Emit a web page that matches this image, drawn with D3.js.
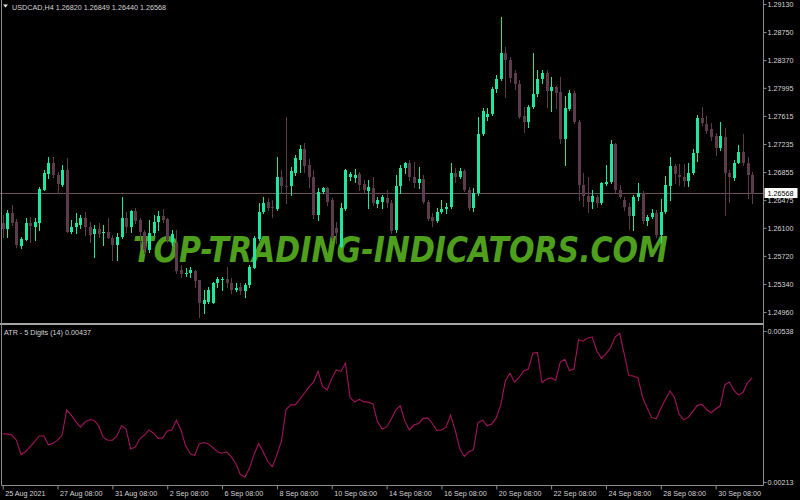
<!DOCTYPE html>
<html lang="en">
<head>
    <meta charset="UTF-8"/>
    <title>USDCAD H4 with ATR</title>
    <script src="https://d3js.org/d3.v7.min.js"></script>
    <style>
        body { margin: 0; background: #000; }
        svg { display: block; }
        text { font-family: "Liberation Sans", Arial, sans-serif; }
    </style>
</head>
<body>

<div id="chart"></div>

<script>
    // USDCAD H4 candles, oldest first
    var open = [
        1.26165,1.26083,1.26300,1.26178,1.25853,1.25934,1.26165,1.26110,1.26165,1.26611,
        1.26828,1.26977,1.26815,1.26679,1.26882,1.26043,1.26110,1.26138,1.26232,1.26110,
        1.26016,1.26083,1.26030,1.26043,1.25961,1.25867,1.25975,1.26232,1.26110,1.26327,
        1.26205,1.26043,1.25799,1.26029,1.26178,1.26259,1.26219,1.25907,1.25894,1.25528,
        1.25474,1.25488,1.25515,1.25393,1.25068,1.25095,1.25081,1.25352,1.25400,1.25406,
        1.25352,1.25257,1.25298,1.25244,1.25325,1.25555,1.25948,1.26313,1.26449,1.26381,
        1.26354,1.26787,1.26666,1.26666,1.26842,1.27018,1.27167,1.26950,1.26787,1.26273,
        1.26584,1.26639,1.26476,1.26097,1.25840,1.26354,1.26787,1.26774,1.26828,1.26693,
        1.26598,1.26639,1.26422,1.26449,1.26503,1.26435,1.26070,1.26666,1.26909,1.26977,
        1.26787,1.26706,1.26760,1.26449,1.26246,1.26192,1.26313,1.26354,1.26381,1.26842,
        1.26787,1.26869,1.26611,1.26368,1.26571,1.27370,1.27600,1.27640,1.27979,1.28114,
        1.28466,1.28372,1.28196,1.28047,1.27613,1.27532,1.27735,1.27911,1.28114,1.28196,
        1.27952,1.28006,1.27938,1.27302,1.27708,1.27925,1.27532,1.26679,1.26530,1.26449,
        1.26517,1.26435,1.26693,1.26720,1.27234,1.26611,1.26476,1.26381,1.26259,1.26517,
        1.26571,1.26192,1.26246,1.26300,1.26002,1.26313,1.26666,1.26936,1.26815,1.26787,
        1.26733,1.26842,1.27112,1.27586,1.27505,1.27437,1.27343,1.27180,1.27329,1.26842,
        1.26774,1.26977,1.27126,1.26977,1.26820
    ];
    var high = [
        1.26273,1.26341,1.26408,1.26219,1.25975,1.26232,1.26246,1.26232,1.26652,1.26882,
        1.27058,1.27058,1.26855,1.26950,1.27045,1.26205,1.26300,1.26273,1.26313,1.26178,
        1.26138,1.26165,1.26138,1.26232,1.26002,1.26029,1.26517,1.26313,1.26341,1.26368,
        1.26232,1.26070,1.26205,1.26273,1.26327,1.26354,1.26232,1.26070,1.26070,1.25596,
        1.25555,1.25569,1.25528,1.25393,1.25257,1.25298,1.25366,1.25433,1.25433,1.25569,
        1.25420,1.25352,1.25352,1.25352,1.25596,1.25989,1.26435,1.26517,1.26503,1.26476,
        1.27058,1.26882,1.27600,1.26923,1.27085,1.27221,1.27248,1.27031,1.26882,1.26639,
        1.26652,1.26652,1.26503,1.26178,1.26435,1.26896,1.26855,1.26896,1.26855,1.26747,
        1.26747,1.26787,1.26517,1.26544,1.26611,1.26476,1.26815,1.26950,1.26991,1.27018,
        1.26991,1.26923,1.26815,1.26476,1.26300,1.26368,1.26476,1.26435,1.26977,1.26909,
        1.26909,1.26896,1.26652,1.26639,1.27600,1.27722,1.27722,1.28006,1.28169,1.28954,
        1.28548,1.28412,1.28236,1.28101,1.27735,1.27762,1.28466,1.28236,1.28236,1.28236,
        1.28141,1.28020,1.28141,1.27884,1.27965,1.27952,1.27559,1.26842,1.26787,1.26611,
        1.26544,1.26720,1.26950,1.27288,1.27248,1.26679,1.26517,1.26435,1.26544,1.26706,
        1.26598,1.26273,1.26354,1.26341,1.26490,1.26801,1.27058,1.26963,1.26963,1.26963,
        1.26977,1.27167,1.27627,1.27735,1.27613,1.27519,1.27383,1.27532,1.27451,1.26882,
        1.27018,1.27221,1.27370,1.27058,1.26849
    ];
    var low = [
        1.25975,1.25975,1.26138,1.25840,1.25826,1.25934,1.25907,1.25934,1.26070,1.26611,
        1.26774,1.26787,1.26571,1.26666,1.26043,1.26029,1.26029,1.26097,1.26002,1.25907,
        1.25704,1.25975,1.25867,1.25961,1.25664,1.25664,1.25961,1.26043,1.26043,1.26165,
        1.25799,1.25758,1.25772,1.26002,1.26070,1.26178,1.25907,1.25867,1.25488,1.25433,
        1.25447,1.25433,1.25298,1.24892,1.24946,1.25081,1.25081,1.25298,1.25257,1.25298,
        1.25217,1.25244,1.25203,1.25163,1.25298,1.25555,1.25934,1.26300,1.26341,1.26246,
        1.26341,1.26584,1.26435,1.26544,1.26815,1.26855,1.26855,1.26652,1.26232,1.26205,
        1.26571,1.26408,1.25934,1.25894,1.25840,1.26341,1.26747,1.26720,1.26611,1.26571,
        1.26368,1.26408,1.26381,1.26368,1.26381,1.26029,1.26043,1.26571,1.26842,1.26747,
        1.26652,1.26639,1.26435,1.26205,1.26124,1.26178,1.26300,1.26300,1.26368,1.26720,
        1.26774,1.26598,1.26341,1.26327,1.26544,1.27356,1.27559,1.27627,1.27938,1.28101,
        1.27871,1.28074,1.27979,1.27586,1.27397,1.27464,1.27722,1.27884,1.28060,1.27735,
        1.27681,1.27722,1.27248,1.26950,1.27695,1.27519,1.26476,1.26395,1.26313,1.26368,
        1.26381,1.26422,1.26679,1.26706,1.26584,1.26503,1.26341,1.26083,1.26070,1.26476,
        1.26165,1.26138,1.26232,1.25975,1.25907,1.26300,1.26476,1.26706,1.26679,1.26666,
        1.26666,1.26828,1.27004,1.27492,1.27383,1.27288,1.27085,1.27153,1.26273,1.26449,
        1.26747,1.26977,1.26950,1.26503,1.26440
    ];
    var close = [
        1.26083,1.26300,1.26165,1.25867,1.25948,1.26165,1.26124,1.26178,1.26625,1.26842,
        1.26977,1.26815,1.26693,1.26882,1.26043,1.26110,1.26165,1.26232,1.26110,1.26002,
        1.26083,1.26016,1.26045,1.25961,1.25867,1.25975,1.26232,1.26110,1.26327,1.26192,
        1.26043,1.25799,1.26029,1.26178,1.26259,1.26205,1.25934,1.26016,1.25515,1.25474,
        1.25488,1.25528,1.25379,1.25081,1.25122,1.25257,1.25352,1.25406,1.25410,1.25352,
        1.25257,1.25284,1.25244,1.25325,1.25569,1.25961,1.26313,1.26435,1.26368,1.26368,
        1.26787,1.26666,1.26660,1.26869,1.27045,1.27167,1.26936,1.26787,1.26273,1.26584,
        1.26639,1.26449,1.25961,1.26029,1.26368,1.26882,1.26828,1.26815,1.26679,1.26611,
        1.26652,1.26435,1.26476,1.26517,1.26435,1.26056,1.26666,1.26909,1.26977,1.26787,
        1.26706,1.26760,1.26449,1.26219,1.26192,1.26313,1.26354,1.26381,1.26842,1.26787,
        1.26869,1.26611,1.26368,1.26571,1.27370,1.27681,1.27640,1.27979,1.28114,1.28466,
        1.28372,1.28128,1.28047,1.27600,1.27532,1.27735,1.27911,1.28114,1.28196,1.27952,
        1.28006,1.27925,1.27302,1.27722,1.27925,1.27532,1.26679,1.26530,1.26449,1.26530,
        1.26435,1.26706,1.26720,1.27234,1.26611,1.26517,1.26381,1.26259,1.26517,1.26571,
        1.26192,1.26246,1.26300,1.26002,1.26313,1.26679,1.26936,1.26828,1.26787,1.26733,
        1.26842,1.27112,1.27586,1.27519,1.27410,1.27329,1.27180,1.27343,1.26842,1.26787,
        1.26977,1.27126,1.26977,1.26815,1.26568
    ];

    // ATR - 5 Digits (14), one value per candle
    var atr = [
        0.00317,0.00316,0.00314,0.00303,0.00272,0.00278,0.00289,0.00300,0.00312,0.00312,
        0.00293,0.00296,0.00303,0.00314,0.00368,0.00357,0.00343,0.00331,0.00342,0.00347,
        0.00346,0.00334,0.00309,0.00303,0.00303,0.00312,0.00334,0.00327,0.00284,0.00288,
        0.00306,0.00314,0.00325,0.00318,0.00307,0.00308,0.00323,0.00325,0.00346,0.00325,
        0.00292,0.00274,0.00270,0.00295,0.00298,0.00295,0.00287,0.00278,0.00275,0.00278,
        0.00267,0.00253,0.00229,0.00224,0.00243,0.00272,0.00296,0.00278,0.00257,0.00246,
        0.00272,0.00301,0.00369,0.00379,0.00379,0.00391,0.00404,0.00417,0.00428,0.00451,
        0.00418,0.00411,0.00436,0.00454,0.00451,0.00469,0.00395,0.00385,0.00391,0.00386,
        0.00385,0.00381,0.00343,0.00327,0.00331,0.00348,0.00368,0.00377,0.00344,0.00325,
        0.00336,0.00339,0.00350,0.00351,0.00339,0.00324,0.00325,0.00331,0.00357,0.00325,
        0.00285,0.00268,0.00278,0.00282,0.00341,0.00346,0.00334,0.00338,0.00351,0.00380,
        0.00431,0.00447,0.00428,0.00438,0.00452,0.00456,0.00490,0.00492,0.00427,0.00434,
        0.00437,0.00432,0.00471,0.00477,0.00453,0.00456,0.00519,0.00516,0.00523,0.00525,
        0.00495,0.00479,0.00489,0.00502,0.00525,0.00533,0.00488,0.00442,0.00441,0.00437,
        0.00396,0.00373,0.00352,0.00349,0.00371,0.00390,0.00409,0.00395,0.00359,0.00347,
        0.00352,0.00365,0.00378,0.00380,0.00369,0.00362,0.00370,0.00377,0.00422,0.00428,
        0.00410,0.00400,0.00406,0.00427,0.00437
    ];

    // time axis: candle index of each label
    var timeTickBars = [0, 12, 24, 36, 48, 60, 72, 84, 96, 108, 120, 132, 144, 156];
    var timeTickLabels = ["25 Aug 2021", "27 Aug 08:00", "31 Aug 08:00", "2 Sep 08:00",
        "6 Sep 08:00", "8 Sep 08:00", "10 Sep 08:00", "14 Sep 08:00", "16 Sep 08:00",
        "20 Sep 08:00", "22 Sep 08:00", "24 Sep 08:00", "28 Sep 08:00", "30 Sep 08:00"];

    var priceTicks = [1.29130, 1.28750, 1.28370, 1.27995, 1.27615, 1.27235,
                      1.26855, 1.26475, 1.26100, 1.25720, 1.25340, 1.24960];
    var atrTicks = [0.00538, 0.00213];

    var symbol = "USDCAD,H4";
    var lastPrice = 1.26568;
    var lastAtr = 0.00437;

    var w = 800;
    var h = 500;
    var axisX = 763.5;      // right price axis line
    var axisY = 485.5;      // bottom time axis line

    var bullColor = "#1fe6a0";
    var bearColor = "#5c3c4c";
    var frameColor = "#8c8c8c";
    var textColor = "#d4d4d4";

    var bars = open.map(function(o, i) {
        return { i: i, o: o, h: high[i], l: low[i], c: close[i] };
    });

    var xScale = d3.scaleLinear()
                    .domain([0, bars.length - 1])
                    .range([2.7, 752.2]);

    var yScale = d3.scaleLinear()
                    .domain([1.24960, 1.29130])
                    .range([312, 4]);

    var atrScale = d3.scaleLinear()
                    .domain([0.00213, 0.00538])
                    .range([482, 331]);

    var svg = d3.select("#chart")
                .append("svg")
                .attr("width", w)
                .attr("height", h);

    svg.append("rect")
        .attr("width", w)
        .attr("height", h)
        .attr("fill", "#000");

    // watermark
    svg.append("text")
        .attr("x", 133)
        .attr("y", 262)
        .attr("textLength", 535)
        .attr("lengthAdjust", "spacingAndGlyphs")
        .style("font-family", "'DejaVu Sans', sans-serif")
        .style("font-weight", "bold")
        .style("font-style", "italic")
        .style("font-size", "35px")
        .attr("fill", "#4e9f1c")
        .text("TOP-TRADING-INDICATORS.COM");

    // current price line
    svg.append("line")
        .attr("x1", 0)
        .attr("x2", axisX)
        .attr("y1", Math.round(yScale(lastPrice)) + 0.5)
        .attr("y2", Math.round(yScale(lastPrice)) + 0.5)
        .attr("stroke", "#6d5260")
        .attr("stroke-width", 1);

    function cx(d) { return Math.round(xScale(d.i)); }
    function col(d) { return d.c > d.o ? bullColor : bearColor; }

    // wicks
    svg.selectAll("line.wick")
        .data(bars)
        .enter()
        .append("line")
        .attr("class", "wick")
        .attr("x1", function(d) { return cx(d) + 0.5; })
        .attr("x2", function(d) { return cx(d) + 0.5; })
        .attr("y1", function(d) { return Math.round(yScale(d.h)); })
        .attr("y2", function(d) { return Math.round(yScale(d.l)) + 1; })
        .attr("stroke", col)
        .attr("stroke-width", 1);

    // bodies
    svg.selectAll("rect.body")
        .data(bars)
        .enter()
        .append("rect")
        .attr("class", "body")
        .attr("x", function(d) { return cx(d) - 1; })
        .attr("y", function(d) { return Math.round(yScale(Math.max(d.o, d.c))); })
        .attr("width", 3)
        .attr("height", function(d) {
            return Math.max(1, Math.round(Math.abs(yScale(d.o) - yScale(d.c))));
        })
        .attr("fill", col)
        .attr("shape-rendering", "crispEdges");

    // ATR line
    var atrLine = d3.line()
                    .x(function(d, i) { return xScale(i); })
                    .y(function(d) { return atrScale(d); });

    svg.append("path")
        .datum(atr)
        .attr("d", atrLine)
        .attr("fill", "none")
        .attr("stroke", "#a3145c")
        .attr("stroke-width", 1.1);

    // frame
    svg.append("rect")
        .attr("x", 0)
        .attr("y", 323)
        .attr("width", axisX)
        .attr("height", 2)
        .attr("fill", "#a6a6a6");

    svg.append("line")
        .attr("x1", 1.5).attr("x2", 1.5)
        .attr("y1", 0).attr("y2", axisY)
        .attr("stroke", frameColor);

    // price axis
    var priceAxis = d3.axisRight(yScale)
                        .tickValues(priceTicks)
                        .tickSize(3)
                        .tickFormat(d3.format(".5f"));

    var gPrice = svg.append("g")
        .attr("transform", "translate(" + axisX + ",0)")
        .call(priceAxis);

    var atrAxis = d3.axisRight(atrScale)
                        .tickValues(atrTicks)
                        .tickSize(3)
                        .tickFormat(d3.format(".5f"));

    var gAtr = svg.append("g")
        .attr("transform", "translate(" + axisX + ",0)")
        .call(atrAxis);

    svg.append("line")
        .attr("x1", axisX).attr("x2", axisX)
        .attr("y1", 0).attr("y2", axisY)
        .attr("stroke", frameColor);

    // time axis
    var timeAxis = d3.axisBottom(xScale)
                        .tickValues(timeTickBars)
                        .tickSize(4)
                        .tickFormat(function(d, i) { return timeTickLabels[i]; });

    var gTime = svg.append("g")
        .attr("transform", "translate(0," + axisY + ")")
        .call(timeAxis);

    gTime.select(".domain").attr("d", "M1.5,0H" + axisX);
    gTime.selectAll("text")
        .attr("text-anchor", "start")
        .attr("x", 2)
        .attr("y", 10)
        .attr("dy", 0);

    [gPrice, gAtr, gTime].forEach(function(g) {
        g.select(".domain").attr("stroke", frameColor);
        g.selectAll(".tick line").attr("stroke", frameColor);
        g.selectAll("text")
            .attr("fill", textColor)
            .style("font-family", "'Liberation Sans', Arial, sans-serif")
            .style("font-size", "7.2px");
    });
    gPrice.selectAll("text").attr("x", 4);
    gAtr.selectAll("text").attr("x", 4);
    gPrice.select(".domain").remove();
    gAtr.select(".domain").remove();

    // last price marker
    var lastY = yScale(lastPrice);
    svg.append("rect")
        .attr("x", axisX + 1)
        .attr("y", Math.round(lastY) - 5)
        .attr("width", 33)
        .attr("height", 10)
        .attr("fill", "#ffffff");
    svg.append("text")
        .attr("x", axisX + 4)
        .attr("y", lastY)
        .attr("dy", "0.32em")
        .attr("fill", "#000")
        .style("font-size", "7.2px")
        .text(d3.format(".5f")(lastPrice));

    // window titles
    svg.append("path")
        .attr("d", "M3,4.5H8L5.5,7.5Z")
        .attr("fill", "#e8e8e8");

    svg.append("text")
        .attr("x", 12)
        .attr("y", 9.5)
        .attr("textLength", 154)
        .attr("lengthAdjust", "spacing")
        .attr("fill", textColor)
        .style("font-size", "7.2px")
        .text(symbol + "  " + [open[open.length - 1], high[high.length - 1],
              low[low.length - 1], close[close.length - 1]].map(d3.format(".5f")).join(" "));

    svg.append("text")
        .attr("x", 4)
        .attr("y", 335)
        .attr("fill", textColor)
        .style("font-size", "7.2px")
        .text("ATR - 5 Digits (14) " + d3.format(".5f")(lastAtr));
</script>

</body>
</html>
